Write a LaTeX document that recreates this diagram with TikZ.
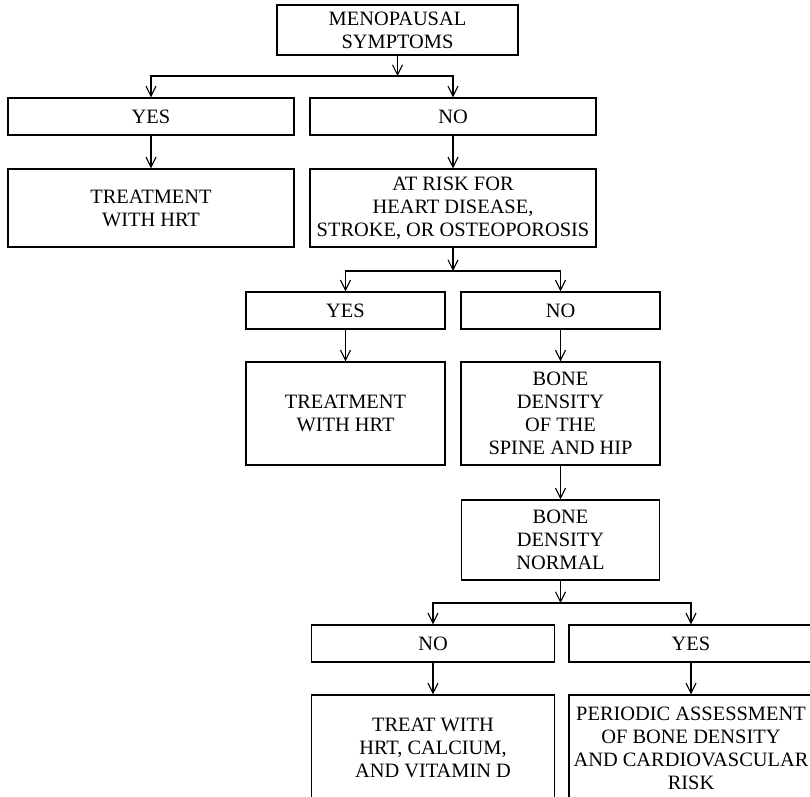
\documentclass[tikz,border=0pt]{standalone}
\usepackage{fontspec}
\setmainfont{Liberation Serif}
\usetikzlibrary{arrows.meta}
\tikzset{
  boxnode/.style={draw, line width=1.4pt, inner sep=0pt, align=center,
    font=\fontsize{20.4}{23}\selectfont},
  arr/.style={draw, line width=1.1pt, -{Straight Barb[length=10pt,width=10pt,line width=1.1pt]}},
}
\begin{document}
\begin{tikzpicture}[x=1pt,y=-1pt]
\useasboundingbox (0,0) rectangle (810,796);
\clip (0,0) rectangle (810,796);
% nodes
\node[boxnode, minimum width=241pt, minimum height=50pt] (top) at (397.5,30) {MENOPAUSAL\\SYMPTOMS};
\node[boxnode, minimum width=286pt, minimum height=37pt] (yes1) at (151,116.5) {YES};
\node[boxnode, minimum width=286pt, minimum height=37pt] (no1) at (453,116.5) {NO};
\node[boxnode, minimum width=286pt, minimum height=78pt] (trt1) at (151,208) {TREATMENT\\WITH HRT};
\node[boxnode, minimum width=286pt, minimum height=78pt] (risk) at (453,208) {AT RISK FOR\\HEART DISEASE,\\STROKE, OR OSTEOPOROSIS};
\node[boxnode, minimum width=199pt, minimum height=37pt] (yes2) at (345.5,310.5) {YES};
\node[boxnode, minimum width=199pt, minimum height=37pt] (no2) at (560.5,310.5) {NO};
\node[boxnode, minimum width=199pt, minimum height=103pt] (trt2) at (345.5,413.5) {TREATMENT\\WITH HRT};
\node[boxnode, minimum width=199pt, minimum height=103pt] (bone) at (560.5,413.5) {BONE\\DENSITY\\OF THE\\SPINE AND HIP};
\node[boxnode, minimum width=198pt, minimum height=80pt] (normal) at (560.5,540) {BONE\\DENSITY\\NORMAL};
\node[boxnode, minimum width=243pt, minimum height=37pt] (no3) at (433,643.5) {NO};
\node[boxnode, minimum width=244pt, minimum height=37pt] (yes3) at (691,643.5) {YES};
\node[boxnode, minimum width=243pt, minimum height=106pt] (trt3) at (433,748) {TREAT WITH\\HRT, CALCIUM,\\AND VITAMIN D};
\node[boxnode, minimum width=244pt, minimum height=106pt] (per) at (691,748) {PERIODIC ASSESSMENT\\OF BONE DENSITY\\AND CARDIOVASCULAR\\RISK};
% junctions
\coordinate (j1) at (397.5,76);
\coordinate (j2) at (453,271);
\coordinate (j3) at (560.5,603);
% connectors
\draw[arr] (top.south) -- (j1);
\draw[arr] (j1) -| (yes1.north);
\draw[arr] (j1) -| (no1.north);
\draw[arr] (yes1.south) -- (trt1.north);
\draw[arr] (no1.south) -- (risk.north);
\draw[arr] (risk.south) -- (j2);
\draw[arr] (j2) -| (yes2.north);
\draw[arr] (j2) -| (no2.north);
\draw[arr] (yes2.south) -- (trt2.north);
\draw[arr] (no2.south) -- (bone.north);
\draw[arr] (bone.south) -- (normal.north);
\draw[arr] (normal.south) -- (j3);
\draw[arr] (j3) -| (no3.north);
\draw[arr] (j3) -| (yes3.north);
\draw[arr] (no3.south) -- (trt3.north);
\draw[arr] (yes3.south) -- (per.north);
\end{tikzpicture}
\end{document}
